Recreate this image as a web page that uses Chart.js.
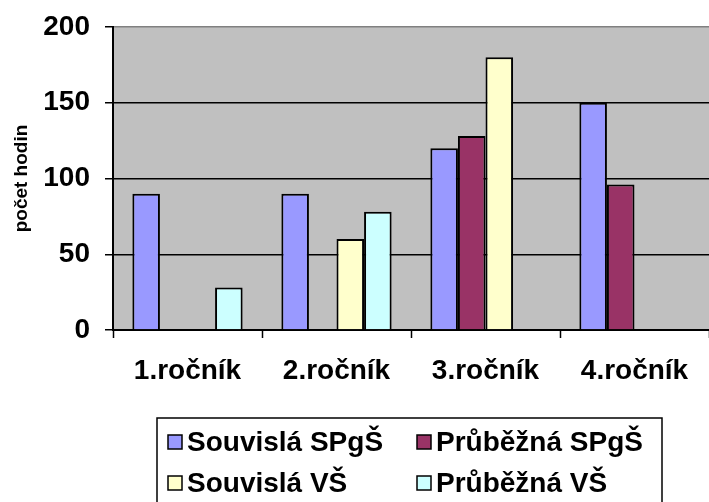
<!DOCTYPE html>
<html>
<head>
<meta charset="utf-8">
<script src="https://cdn.jsdelivr.net/npm/chart.js@4"></script>
<style>
  html, body { margin: 0; padding: 0; background: #fff; }
  #wrap { width: 709px; height: 502px; }
</style>
</head>
<body>
<div id="wrap"><canvas id="myChart" width="709" height="502"></canvas></div>
<script>
var categories = ["1.ročník", "2.ročník", "3.ročník", "4.ročník"];
var souvislaSPgS = [90, 90, 120, 150];
var prubeznaSPgS = [null, null, 128, 96];
var souvislaVS = [null, 60, 180, null];
var prubeznaVS = [28, 78, null, null];
var yTicks = [0, 50, 100, 150, 200];

var fontFamily = "'Liberation Sans', Arial, sans-serif";

// gray plot area
const plotBg = {
  id: 'plotBg',
  beforeDraw(chart) {
    const a = chart.chartArea, ctx = chart.ctx;
    ctx.save();
    ctx.fillStyle = '#c0c0c0';
    ctx.fillRect(a.left, a.top, a.right - a.left, a.bottom - a.top);
    ctx.restore();
  }
};

// two-column boxed legend like the original
const boxLegend = {
  id: 'boxLegend',
  afterDraw(chart) {
    const ctx = chart.ctx;
    const ds = chart.data.datasets;
    const cols = [168, 417];
    const rows = [442, 483];
    ctx.save();
    ctx.strokeStyle = '#000';
    ctx.lineWidth = 1.5;
    ctx.strokeRect(157, 418, 505, 100);
    ctx.font = 'bold 28px ' + fontFamily;
    ctx.textBaseline = 'middle';
    ctx.textAlign = 'left';
    ds.forEach(function (d, i) {
      const x = cols[i % 2], y = rows[Math.floor(i / 2)];
      ctx.fillStyle = d.backgroundColor;
      ctx.fillRect(x, y - 7, 14, 14);
      ctx.strokeStyle = '#000';
      ctx.lineWidth = 1.5;
      ctx.strokeRect(x, y - 7, 14, 14);
      ctx.fillStyle = '#000';
      ctx.fillText(d.label, x + 19, y + 1);
    });
    ctx.restore();
  }
};

new Chart("myChart", {
  type: "bar",
  data: {
    labels: categories,
    datasets: [
      { label: "Souvislá SPgŠ", data: souvislaSPgS, backgroundColor: "#9999ff" },
      { label: "Průběžná SPgŠ", data: prubeznaSPgS, backgroundColor: "#993366" },
      { label: "Souvislá VŠ", data: souvislaVS, backgroundColor: "#ffffcc" },
      { label: "Průběžná VŠ", data: prubeznaVS, backgroundColor: "#ccffff" }
    ]
  },
  options: {
    responsive: false,
    animation: false,
    datasets: {
      bar: {
        borderColor: "#000",
        borderWidth: 2,
        categoryPercentage: 0.74,
        barPercentage: 1
      }
    },
    layout: { padding: { top: 27, right: 0, bottom: 92, left: 0 } },
    plugins: {
      legend: { display: false },
      tooltip: { enabled: false }
    },
    scales: {
      x: {
        offset: true,
        grid: {
          offset: true,
          drawOnChartArea: false,
          drawTicks: true,
          tickLength: 8,
          tickColor: "#000",
          tickWidth: 1.5
        },
        border: { color: "#000", width: 2 },
        ticks: {
          color: "#000",
          padding: 16,
          font: { family: fontFamily, size: 28, weight: "bold" }
        },
        afterFit(scale) { scale.height = 80; }
      },
      y: {
        min: 0,
        max: 200,
        afterBuildTicks(scale) { scale.ticks = yTicks.map(function (v) { return { value: v }; }); },
        grid: {
          color(c) { return c.tick && c.tick.value === 200 ? "#808080" : "#000"; },
          lineWidth: 1.5,
          tickLength: 8,
          tickColor: "#000"
        },
        border: { color: "#000", width: 2 },
        ticks: {
          color: "#000",
          padding: 15,
          font: { family: fontFamily, size: 28, weight: "bold" }
        },
        title: {
          display: true,
          text: "počet hodin",
          color: "#000",
          padding: { top: 10, bottom: 0 },
          font: { family: fontFamily, size: 19, weight: "bold" }
        },
        afterFit(scale) {
          scale.width = 113;
          scale.paddingTop = 10;
          scale.paddingBottom = 10;
        }
      }
    }
  },
  plugins: [plotBg, boxLegend]
});
</script>
</body>
</html>
